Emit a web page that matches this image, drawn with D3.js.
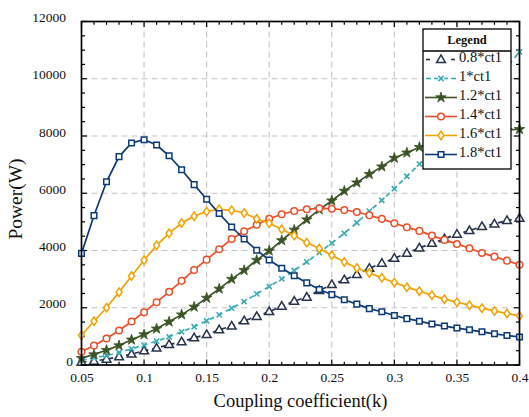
<!DOCTYPE html>
<html>
<head>
<meta charset="utf-8">
<script src="https://cdn.jsdelivr.net/npm/d3@7"></script>
<style>
html,body{margin:0;padding:0;background:#fff;}
svg{display:block;font-family:"Liberation Serif","Times New Roman",serif;}
</style>
</head>
<body>
<svg id="chart" width="529" height="417"></svg>
<script>
// ---- data ----
const kValues = d3.range(36).map(i => +(0.05 + i * 0.01).toFixed(2));
const seriesNames = ["0.8*ct1", "1*ct1", "1.2*ct1", "1.4*ct1", "1.6*ct1", "1.8*ct1"];
const s08 = [100,135,205,285,380,495,590,715,810,950,1065,1230,1360,1545,1695,1865,2055,2230,2370,2600,2810,2975,3160,3380,3555,3730,3905,4090,4250,4410,4570,4695,4835,4930,5045,5130];
const s10 = [160,250,330,435,565,695,835,985,1160,1335,1545,1750,1985,2215,2485,2740,3010,3300,3600,3925,4260,4600,4970,5375,5755,6160,6595,7020,7470,7930,8400,8880,9380,9890,10410,10940];
const s12 = [240,365,520,680,880,1065,1265,1510,1760,2030,2340,2660,3000,3310,3665,3990,4350,4720,5080,5430,5740,6080,6370,6665,6930,7230,7415,7610,7780,7900,8000,8080,8140,8180,8210,8235];
const s14 = [460,680,925,1205,1520,1845,2195,2555,2940,3320,3680,4045,4400,4670,4900,5110,5265,5380,5440,5475,5460,5415,5345,5230,5105,4950,4810,4685,4520,4370,4230,4080,3915,3785,3645,3500];
const s16 = [1040,1530,2000,2545,3110,3660,4180,4600,4960,5200,5360,5440,5405,5310,5110,4950,4740,4520,4275,4070,3835,3600,3390,3215,3045,2880,2720,2580,2440,2300,2195,2090,1985,1890,1800,1715];
const s18 = [3900,5220,6400,7280,7755,7870,7685,7310,6820,6300,5790,5290,4820,4400,4010,3670,3380,3120,2870,2640,2460,2280,2125,1970,1860,1730,1620,1530,1430,1360,1290,1230,1160,1090,1030,980];
const xTicks = [0.05,0.1,0.15,0.2,0.25,0.3,0.35,0.4];
const yTicks = [0,2000,4000,6000,8000,10000,12000];
const xLabel = "Coupling coefficient(k)";
const yLabel = "Power(W)";

// ---- styles ----
const styles = [
  {color:"#27334f", dash:"5,4", marker:"triangle"},
  {color:"#3aadb5", dash:"5,4", marker:"x"},
  {color:"#3c5526", dash:null, marker:"star"},
  {color:"#ef4e26", dash:null, marker:"circle"},
  {color:"#f6a300", dash:null, marker:"diamond"},
  {color:"#0c3b7c", dash:null, marker:"square"}
];
const allSeries = [s08, s10, s12, s14, s16, s18];

const svg = d3.select("#chart");
const L = 81.5, R = 519.5, T = 21.5, B = 365;
const x = d3.scaleLinear().domain([0.05, 0.4]).range([L, R]);
const y = d3.scaleLinear().domain([0, 12000]).range([B, T]);

// grid
const grid = svg.append("g").attr("stroke", "#c4c4c4").attr("stroke-width", 1.1).attr("stroke-dasharray", "6,4");
xTicks.slice(1, -1).forEach(t => grid.append("line").attr("x1", x(t)).attr("x2", x(t)).attr("y1", T).attr("y2", B));
yTicks.slice(1, -1).forEach(t => grid.append("line").attr("x1", L).attr("x2", R).attr("y1", y(t)).attr("y2", y(t)));

// axes via d3
const minorX = d3.range(0.05, 0.4001, 0.01).map(v => +v.toFixed(2));
const minorY = d3.range(0, 12001, 500);
function fmtX(d){ return d3.format("")(+d.toFixed(2)); }

const axB = svg.append("g").attr("transform", `translate(0,${B})`)
  .call(d3.axisBottom(x).tickValues(xTicks).tickSize(0).tickPadding(5).tickFormat(fmtX));
const axL = svg.append("g").attr("transform", `translate(${L},0)`)
  .call(d3.axisLeft(y).tickValues(yTicks).tickSize(0).tickPadding(15.5).tickFormat(d3.format("d")));
[axB, axL].forEach(a => { a.select(".domain").remove(); a.selectAll("text").attr("font-size", 13.5).attr("fill", "#111").attr("font-family", "Liberation Serif, serif"); });
axB.selectAll("text").attr("dy", "0.9em");
axL.selectAll("text").attr("dy", "0em");
axL.selectAll(".tick").filter(d => d === 0).select("text").attr("x", -8.5);

// inward ticks on all four sides
const tk = svg.append("g").attr("stroke", "#000").attr("stroke-width", 1.2);
minorX.forEach(v => {
  const major = xTicks.some(t => Math.abs(t - v) < 1e-6);
  const len = major ? 5.5 : 3.3;
  tk.append("line").attr("x1", x(v)).attr("x2", x(v)).attr("y1", B).attr("y2", B - len);
  tk.append("line").attr("x1", x(v)).attr("x2", x(v)).attr("y1", T).attr("y2", T + len);
});
minorY.forEach(v => {
  const major = v % 2000 === 0;
  const len = major ? 5.5 : 3.5;
  tk.append("line").attr("x1", L).attr("x2", L + len).attr("y1", y(v)).attr("y2", y(v));
  tk.append("line").attr("x1", R).attr("x2", R - len).attr("y1", y(v)).attr("y2", y(v));
});

// markers
function markerPath(type){
  switch(type){
    case "triangle": return "M0,-4.6L4.4,3L-4.4,3Z";
    case "x": return "M-2.6,-2.6L2.6,2.6M-2.6,2.6L2.6,-2.6";
    case "star": return d3.symbol(d3.symbolStar, 34)();
    case "circle": return d3.symbol(d3.symbolCircle, 34)();
    case "diamond": return "M0,-4.2L3,0L0,4.2L-3,0Z";
    case "square": return "M-2.8,-2.8H2.8V2.8H-2.8Z";
  }
}
function drawMarker(g, type, color, cx, cy){
  const p = g.append("path").attr("d", markerPath(type)).attr("transform", `translate(${cx},${cy})`);
  if (type === "star") p.attr("fill", color).attr("stroke", color).attr("stroke-width", 0.8);
  else if (type === "x") p.attr("fill", "none").attr("stroke", color).attr("stroke-width", 1.6);
  else p.attr("fill", "#fff").attr("stroke", color).attr("stroke-width", 1.5);
}

const line = d3.line().x((d, i) => x(kValues[i])).y(d => y(d));
const plot = svg.append("g");
allSeries.forEach((vals, si) => {
  const st = styles[si];
  const g = plot.append("g");
  g.append("path").datum(vals).attr("d", line).attr("fill", "none")
    .attr("stroke", st.color).attr("stroke-width", 1.7)
    .attr("stroke-dasharray", st.dash);
  vals.forEach((v, i) => drawMarker(g, st.marker, st.color, x(kValues[i]), y(v)));
});

// frame
svg.append("rect").attr("x", L).attr("y", T).attr("width", R - L).attr("height", B - T)
  .attr("fill", "none").attr("stroke", "#000").attr("stroke-width", 1.7);

// axis titles
svg.append("text").attr("x", (L + R) / 2).attr("y", 407).attr("text-anchor", "middle")
  .attr("font-size", 18.5).attr("fill", "#111").text(xLabel);
svg.append("text").attr("transform", `translate(22,199) rotate(-90)`).attr("text-anchor", "middle")
  .attr("font-size", 19.5).attr("fill", "#111").text(yLabel);

// legend
const lg = svg.append("g");
const lx = 423, ly = 29, lw = 88, lh = 140;
lg.append("rect").attr("x", lx).attr("y", ly).attr("width", lw).attr("height", lh)
  .attr("fill", "#fff").attr("stroke", "#000").attr("stroke-width", 1.3);
lg.append("line").attr("x1", lx).attr("x2", lx + lw).attr("y1", 51).attr("y2", 51)
  .attr("stroke", "#000").attr("stroke-width", 1.3);
lg.append("text").attr("x", lx + lw / 2).attr("y", 40).attr("dy", "0.35em").attr("text-anchor", "middle")
  .attr("font-weight", "bold").attr("font-size", 12.5).attr("fill", "#111").text("Legend");
seriesNames.forEach((name, i) => {
  const st = styles[i];
  const cy = 59.5 + i * 19;
  const row = lg.append("g");
  if (st.dash) {
    const segs = i === 0 ? [[426,430],[451,455]] : [[426,431],[434,438],[444,448],[451,456]];
    segs.forEach(s => row.append("line").attr("x1", s[0]).attr("x2", s[1]).attr("y1", cy).attr("y2", cy)
      .attr("stroke", st.color).attr("stroke-width", 1.6));
  } else {
    row.append("line").attr("x1", 425).attr("x2", 457).attr("y1", cy).attr("y2", cy)
      .attr("stroke", st.color).attr("stroke-width", 1.6);
  }
  drawMarker(row, st.marker, st.color, 441, cy);
  row.append("text").attr("x", 459).attr("y", cy - 1.5).attr("dy", "0.3em")
    .attr("font-size", 14.5).attr("fill", "#111").text(name);
});
</script>
</body>
</html>
